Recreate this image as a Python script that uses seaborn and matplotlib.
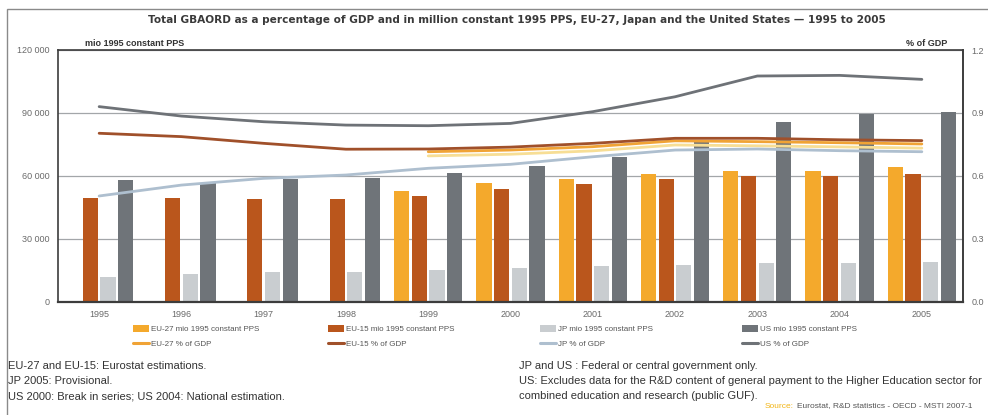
import matplotlib
matplotlib.use("Agg")
import matplotlib.pyplot as plt
import matplotlib.patheffects as pe
from matplotlib.patches import Patch, Rectangle
from matplotlib.lines import Line2D
from matplotlib.ticker import FixedLocator, FuncFormatter
import numpy as np
import pandas as pd
import seaborn as sns

# ---- data -------------------------------------------------------------
years = ["1995", "1996", "1997", "1998", "1999", "2000",
         "2001", "2002", "2003", "2004", "2005"]

# GBAORD, million constant 1995 PPS
eu27_pps = [np.nan, np.nan, np.nan, np.nan, 53000, 56500, 58500, 61100, 62400, 62400, 64000]
eu15_pps = [49500, 49500, 49200, 49000, 50500, 53500, 55900, 58400, 59800, 59800, 61100]
jp_pps = [11600, 13200, 14000, 14300, 15100, 15900, 17000, 17600, 18300, 18600, 18900]
us_pps = [57800, 56400, 58300, 59000, 61300, 64600, 69000, 76600, 85700, 89700, 90400]

# GBAORD, % of GDP
eu27_gdp = [np.nan, np.nan, np.nan, np.nan, 0.715, 0.723, 0.739, 0.767, 0.763, 0.758, 0.752]
eu15_gdp = [0.803, 0.787, 0.755, 0.727, 0.728, 0.737, 0.755, 0.779, 0.779, 0.772, 0.768]
jp_gdp = [0.504, 0.556, 0.588, 0.604, 0.636, 0.655, 0.691, 0.723, 0.728, 0.720, 0.715]
us_gdp = [0.930, 0.885, 0.858, 0.842, 0.839, 0.850, 0.906, 0.977, 1.076, 1.079, 1.060]

bar_labels = ["EU-27 mio 1995 constant PPS", "EU-15 mio 1995 constant PPS",
              "JP mio 1995 constant PPS", "US mio 1995 constant PPS"]
line_labels = ["EU-27 % of GDP", "EU-15 % of GDP", "JP % of GDP", "US % of GDP"]

bar_colors = ["#F4A92C", "#BA561C", "#C9CDD0", "#6F7479"]
line_colors = ["#F0A335", "#A0502A", "#AEBFCF", "#6E7277"]

left_ticks = [0, 30000, 60000, 90000, 120000]
right_ticks = [0.0, 0.3, 0.6, 0.9, 1.2]

# ---- style ------------------------------------------------------------
sns.set_style("white")
plt.rcParams["font.family"] = ["Liberation Sans", "DejaVu Sans"]

W, H = 988, 415
fig = plt.figure(figsize=(W / 100, H / 100), dpi=100)

def fx(px):
    return px / W

def fy(py):
    return 1 - py / H

ax = fig.add_axes([fx(58), fy(301.7), fx(963) - fx(58), fy(50) - fy(301.7)])

# ---- bars -------------------------------------------------------------
series_pps = [eu27_pps, eu15_pps, jp_pps, us_pps]
frames = []
for lab, vals in zip(bar_labels, series_pps):
    frames.append(pd.DataFrame({"year": years, "value": vals, "series": lab}))
df = pd.concat(frames, ignore_index=True)

sns.barplot(data=df, x="year", y="value", hue="series", order=years,
            hue_order=bar_labels, palette=bar_colors, width=0.86, gap=0.14,
            saturation=1, edgecolor="none", linewidth=0, legend=False, ax=ax,
            zorder=2)

ax.set_xlim(-0.5, 10.5)
ax.set_ylim(0, 120000)
ax.yaxis.set_major_locator(FixedLocator(left_ticks))
ax.yaxis.set_major_formatter(FuncFormatter(lambda v, p: f"{int(v):,}".replace(",", " ")))
ax.set_xlabel("")
ax.set_ylabel("")
ax.set_axisbelow(True)
ax.yaxis.grid(True, color="#A3A6A9", linewidth=0.9)
ax.xaxis.grid(False)
ax.tick_params(axis="both", length=0, labelsize=6.5, labelcolor="#6A6A6A")
ax.tick_params(axis="y", pad=6)
ax.tick_params(axis="x", pad=6)
for lab in ax.get_xticklabels():
    lab.set_fontsize(6.5)
for name, sp in ax.spines.items():
    sp.set_visible(True)
    sp.set_color("#3C3C3C")
    sp.set_linewidth(1.2)
ax.spines["bottom"].set_linewidth(1.6)

# ---- lines (right axis) ----------------------------------------------
ax2 = ax.twinx()
pos = np.arange(len(years))
for vals, col in zip([eu15_gdp, jp_gdp, us_gdp], line_colors[1:]):
    sns.lineplot(x=pos, y=vals, color=col, linewidth=2.0, ax=ax2, zorder=4)

mask = ~np.isnan(np.array(eu27_gdp))
sns.lineplot(x=pos[mask], y=np.array(eu27_gdp)[mask], color=line_colors[0],
             linewidth=2.0, ax=ax2, zorder=3,
             path_effects=[pe.SimpleLineShadow(offset=(0, -3), shadow_color="#F7DE95",
                                               alpha=1.0, rho=1.0),
                           pe.Normal()])

ax2.set_xlim(-0.5, 10.5)
ax2.set_ylim(0, 1.2)
ax2.yaxis.set_major_locator(FixedLocator(right_ticks))
ax2.yaxis.set_major_formatter(FuncFormatter(lambda v, p: f"{v:.1f}"))
ax2.set_ylabel("")
ax2.grid(False)
ax2.tick_params(axis="y", length=0, labelsize=6.5, labelcolor="#6A6A6A", pad=6)
for name, sp in ax2.spines.items():
    sp.set_visible(name == "right")
ax2.spines["right"].set_color("#3C3C3C")
ax2.spines["right"].set_linewidth(1.2)

# ---- axis titles ------------------------------------------------------
fig.text(fx(85), fy(43), "mio 1995 constant PPS", fontsize=6.5, fontweight="bold",
         color="#333333", ha="left", va="center")
fig.text(fx(947), fy(43), "% of GDP", fontsize=6.5, fontweight="bold",
         color="#333333", ha="right", va="center")

# ---- title ------------------------------------------------------------
fig.text(fx(517), fy(20),
         "Total GBAORD as a percentage of GDP and in million constant 1995 PPS, "
         "EU-27, Japan and the United States \u2014 1995 to 2005",
         fontsize=7.6, fontweight="bold", color="#3A3A3A", ha="center", va="center",
         family=["DejaVu Sans"])

# ---- frame ------------------------------------------------------------
fig.patches.append(Rectangle((fx(7), -0.05), fx(990) - fx(7), fy(9) + 0.05,
                             transform=fig.transFigure, fill=False,
                             edgecolor="#8A8A8A", linewidth=1.0))

# ---- legend: one two-row block per region ----------------------------
leg_x = [133, 328, 540, 742]
for i in range(4):
    handles = [Patch(facecolor=bar_colors[i], edgecolor="none"),
               Line2D([0], [0], color=line_colors[i], linewidth=2.2)]
    leg = fig.legend(handles, [bar_labels[i], line_labels[i]],
                     loc="upper left", bbox_to_anchor=(fx(leg_x[i]), fy(325)),
                     bbox_transform=fig.transFigure, frameon=False,
                     borderpad=0, borderaxespad=0, handlelength=2.0,
                     handleheight=1.0, handletextpad=0.2, labelspacing=0.75,
                     prop={"size": 5.8})
    for t in leg.get_texts():
        t.set_color("#555555")

# ---- notes ------------------------------------------------------------
left_notes = ["EU-27 and EU-15: Eurostat estimations.",
              "JP 2005: Provisional.",
              "US 2000: Break in series; US 2004: National estimation."]
right_notes = ["JP and US : Federal or central government only.",
               "US: Excludes data for the R&D content of general payment to the Higher Education sector for",
               "combined education and research (public GUF)."]
for k, (a, b) in enumerate(zip(left_notes, right_notes)):
    yy = fy(366 + 15 * k)
    fig.text(fx(8), yy, a, fontsize=8.0, color="#333333", ha="left", va="center")
    fig.text(fx(519), yy, b, fontsize=8.0, color="#333333", ha="left", va="center")

src = fig.text(fx(972), fy(406), "Eurostat, R&D statistics - OECD - MSTI 2007-1",
               fontsize=6.0, color="#555555", ha="right", va="center")
fig.canvas.draw()
bb = src.get_window_extent(renderer=fig.canvas.get_renderer())
fig.text(bb.x0 / (fig.dpi * fig.get_figwidth()) - fx(3), fy(406), "Source:",
         fontsize=6.0, color="#F2B516", ha="right", va="center")

fig.savefig("out.png", dpi=100, facecolor="white")
